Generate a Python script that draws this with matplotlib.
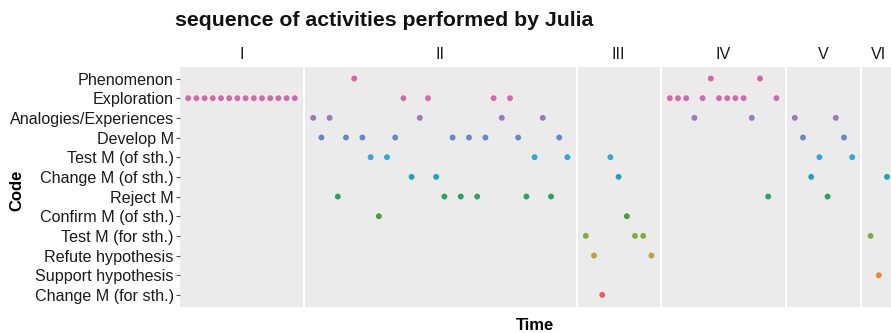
import matplotlib
matplotlib.use("Agg")
import matplotlib.pyplot as plt

plt.rcParams["font.family"] = ["Liberation Sans", "DejaVu Sans"]

# code levels, top to bottom
codes = [
    "Phenomenon", "Exploration", "Analogies/Experiences", "Develop M",
    "Test M (of sth.)", "Change M (of sth.)", "Reject M", "Confirm M (of sth.)",
    "Test M (for sth.)", "Refute hypothesis", "Support hypothesis", "Change M (for sth.)",
]
colors = [
    "#E2619B", "#D26AA9", "#9A7AB9", "#6488C8",
    "#33A5DF", "#16A8B6", "#25A46C", "#3EA541",
    "#86A93B", "#BBA33A", "#E38A2B", "#EE605C",
]
short = {
    "PH": "Phenomenon", "EX": "Exploration", "AN": "Analogies/Experiences",
    "DM": "Develop M", "TMo": "Test M (of sth.)", "CMo": "Change M (of sth.)",
    "RM": "Reject M", "CfM": "Confirm M (of sth.)", "TMf": "Test M (for sth.)",
    "RH": "Refute hypothesis", "SH": "Support hypothesis", "CMf": "Change M (for sth.)",
}

phases = ["I", "II", "III", "IV", "V", "VI"]
seq_I = ["EX"] * 14
seq_II = ["AN", "DM", "AN", "RM", "DM", "PH", "DM", "TMo", "CfM", "TMo", "DM",
          "EX", "CMo", "AN", "EX", "CMo", "RM", "DM", "RM", "DM", "RM", "DM",
          "EX", "AN", "EX", "DM", "RM", "TMo", "AN", "RM", "DM", "TMo"]
seq_III = ["TMf", "RH", "CMf", "TMo", "CMo", "CfM", "TMf", "TMf", "RH"]
seq_IV = ["EX", "EX", "EX", "AN", "EX", "PH", "EX", "EX", "EX", "EX", "AN",
          "PH", "RM", "EX"]
seq_V = ["AN", "DM", "CMo", "TMo", "RM", "AN", "DM", "TMo"]
seq_VI = ["TMf", "SH", "CMo"]
sequences = [seq_I, seq_II, seq_III, seq_IV, seq_V, seq_VI]

W, H = 891, 333
fig = plt.figure(figsize=(W / 100, H / 100), dpi=100)

step = 8.2      # px per time step
gap = 2.0       # px between panels
x_left = 180.0
y_top, y_bot = 66.7, 306.7
n_codes = len(codes)
ypos = {c: n_codes - 1 - i for i, c in enumerate(codes)}

t = 1
x = x_left
for k, (phase, seq) in enumerate(zip(phases, sequences)):
    n = len(seq)
    width = (n + 1) * step
    ax = fig.add_axes([x / W, 1 - y_bot / H, width / W, (y_bot - y_top) / H])
    ax.set_facecolor("#EBEBEB")
    times = list(range(t, t + n))
    for tt, s in zip(times, seq):
        name = short[s]
        ax.scatter(tt, ypos[name], s=18, color=colors[codes.index(name)],
                   edgecolors="none", zorder=3)
    ax.set_xlim(t - 1, t + n)
    ax.set_ylim(-0.6, n_codes - 1 + 0.6)
    for sp in ax.spines.values():
        sp.set_visible(False)
    ax.set_xticks([])
    if k == 0:
        ax.set_yticks(range(n_codes))
        ax.set_yticklabels(codes[::-1], fontsize=11.6, color="#1A1A1A")
        ax.tick_params(axis="y", length=3, width=0.8, color="#555555", pad=1.5)
    else:
        ax.set_yticks([])
    ax.text(0.5, 1 + 12 / (y_bot - y_top), phase, transform=ax.transAxes,
            ha="center", va="center", fontsize=11.6, color="#1A1A1A")
    t += n
    x += width + gap

fig.text(175 / W, 1 - 21 / H, "sequence of activities performed by Julia",
         fontsize=15.3, fontweight="bold", ha="left", va="center", color="#111111")
fig.text(535.5 / W, 1 - 326 / H, "Time", fontsize=12, fontweight="bold",
         ha="center", va="center")
fig.text(17 / W, 1 - 190 / H, "Code", fontsize=12, fontweight="bold",
         ha="center", va="center", rotation=90)

fig.savefig("out.png", dpi=100)
